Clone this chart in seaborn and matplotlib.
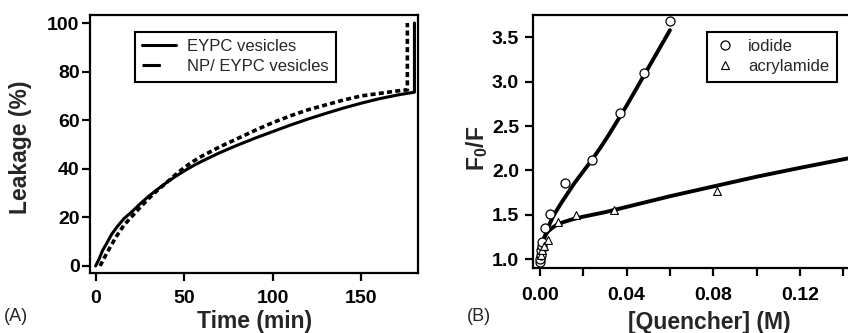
import numpy as np
import pandas as pd
import seaborn as sns
import matplotlib.pyplot as plt
from matplotlib.lines import Line2D
from matplotlib.ticker import MultipleLocator, FormatStrFormatter

# ---- panel A: leakage kinetics ----
time_eypc = [0, 2, 4, 6, 9, 12, 16, 20, 25, 30, 35, 40, 45, 50, 55, 60, 70, 80, 90, 100,
             110, 120, 130, 140, 150, 160, 170, 178, 180, 180]
leak_eypc = [0, 3, 6.5, 9, 13, 16, 19.5, 22, 25.5, 28.7, 31.6, 34.3, 36.8, 39.1, 41.2,
             43.1, 46.6, 49.7, 52.6, 55.3, 58, 60.5, 62.8, 65, 67, 68.8, 70.3, 71.3, 71.5, 100]
time_np = [2.5, 5, 8, 12, 16, 20, 25, 30, 35, 40, 45, 50, 55, 60, 70, 80, 90, 100,
           110, 120, 130, 140, 150, 160, 170, 176, 176]
leak_np = [0, 3.5, 7.5, 12.5, 16.8, 20, 24, 27.8, 31.2, 34.3, 37.5, 40.5, 43, 45.2, 49,
           52.4, 55.8, 59, 61.8, 64.3, 66.3, 68.3, 70, 71, 72, 72.5, 100]

# ---- panel B: Stern-Volmer ----
iod_q = [0.0, 0.0002, 0.0004, 0.0006, 0.0008, 0.001, 0.0023, 0.0046, 0.0115, 0.0241, 0.0369, 0.048, 0.060]
iod_f = [0.97, 1.0, 1.05, 1.1, 1.15, 1.2, 1.35, 1.51, 1.86, 2.12, 2.65, 3.1, 3.68]
acr_q = [0.0005, 0.001, 0.002, 0.0038, 0.0085, 0.0166, 0.0342, 0.0815]
acr_f = [1.05, 1.1, 1.15, 1.22, 1.42, 1.5, 1.55, 1.77]

iod_fit_q = [0, 0.0005, 0.001, 0.002, 0.003, 0.004, 0.006, 0.008, 0.010, 0.013, 0.016,
             0.020, 0.024, 0.028, 0.032, 0.036, 0.040, 0.044, 0.048, 0.052, 0.056, 0.060]
iod_fit_f = [1.0, 1.09, 1.15, 1.24, 1.31, 1.37, 1.48, 1.56, 1.64, 1.75, 1.86, 1.99,
             2.12, 2.26, 2.41, 2.57, 2.73, 2.90, 3.07, 3.24, 3.41, 3.58]
acr_fit_q = [0, 0.0005, 0.001, 0.0015, 0.002, 0.003, 0.004, 0.006, 0.008, 0.011, 0.015,
             0.02, 0.03, 0.04, 0.06, 0.08, 0.10, 0.12, 0.145]
acr_fit_f = [1.0, 1.09, 1.15, 1.2, 1.24, 1.29, 1.32, 1.36, 1.39, 1.42, 1.45, 1.48, 1.53,
             1.59, 1.71, 1.82, 1.93, 2.03, 2.15]

sns.set_style("ticks")
plt.rcParams['font.family'] = ['Liberation Sans', 'DejaVu Sans']
plt.rcParams['mathtext.default'] = 'regular'

fig = plt.figure(figsize=(8.48, 3.33), dpi=100)
ax1 = fig.add_axes([0.1061, 0.1802, 0.3868, 0.7748])
ax2 = fig.add_axes([0.6285, 0.1952, 0.3788, 0.7598])

lw = 2.2
sns.lineplot(x=time_eypc, y=leak_eypc, ax=ax1, color="black", lw=lw,
             sort=False, estimator=None)
sns.lineplot(x=time_np, y=leak_np, ax=ax1, color="black", lw=2.6,
             linestyle=(0, (1.4, 0.9)), sort=False, estimator=None)
ax1.set_xlim(-3.2, 182)
ax1.set_ylim(-2.9, 103.3)
ax1.xaxis.set_major_locator(MultipleLocator(50))
ax1.yaxis.set_major_locator(MultipleLocator(20))
ax1.set_xlabel("Time (min)", fontsize=16.5, fontweight="bold")
ax1.set_ylabel("Leakage (%)", fontsize=16.5, fontweight="bold")
ax1.xaxis.set_label_coords(0.503, -0.145)
ax1.yaxis.set_label_coords(-0.178, 0.488)
handles = [Line2D([], [], color="black", lw=lw),
           Line2D([], [], color="black", lw=lw, linestyle=(0, (6, 10)))]
leg1 = ax1.legend(handles, ["EYPC vesicles", "NP/ EYPC vesicles"],
                  loc="upper left", bbox_to_anchor=(0.137, 0.935),
                  borderaxespad=0, fontsize=12, frameon=True, fancybox=False,
                  handlelength=2.0, borderpad=0.45, labelspacing=0.3,
                  handletextpad=0.65)

sns.lineplot(x=iod_fit_q, y=iod_fit_f, ax=ax2, color="black", lw=lw + 0.6,
             sort=False, estimator=None)
sns.lineplot(x=acr_fit_q, y=acr_fit_f, ax=ax2, color="black", lw=lw + 0.6,
             sort=False, estimator=None)
sns.scatterplot(x=iod_q, y=iod_f, ax=ax2, marker="o", s=42, facecolor="white",
                edgecolor="black", linewidth=0.9, zorder=3)
sns.scatterplot(x=acr_q, y=acr_f, ax=ax2, marker="^", s=32, facecolor="white",
                edgecolor="black", linewidth=0.8, zorder=3)
ax2.set_xlim(-0.0032, 0.145)
ax2.set_ylim(0.902, 3.751)
ax2.xaxis.set_major_locator(MultipleLocator(0.04))
ax2.xaxis.set_minor_locator(MultipleLocator(0.02))
ax2.xaxis.set_major_formatter(FormatStrFormatter("%.2f"))
ax2.yaxis.set_major_locator(MultipleLocator(0.5))
ax2.yaxis.set_major_formatter(FormatStrFormatter("%.1f"))
ax2.set_xlabel("[Quencher] (M)", fontsize=16.5, fontweight="bold")
ax2.set_ylabel("F$_0$/F", fontsize=16.5, fontweight="bold")
ax2.xaxis.set_label_coords(0.548, -0.17)
ax2.yaxis.set_label_coords(-0.134, 0.472)
mh = [Line2D([], [], marker="o", ls="", mfc="white", mec="black", ms=6.5, mew=0.9),
      Line2D([], [], marker="^", ls="", mfc="white", mec="black", ms=6, mew=0.8)]
leg2 = ax2.legend(mh, ["iodide", "acrylamide"], loc="upper left",
                  bbox_to_anchor=(0.542, 0.934), borderaxespad=0, fontsize=12,
                  frameon=True, fancybox=False, handlelength=1.2, borderpad=0.45,
                  labelspacing=0.3, handletextpad=0.8)

for leg in (leg1, leg2):
    fr = leg.get_frame()
    fr.set_edgecolor("black")
    fr.set_linewidth(1.5)
    fr.set_alpha(1)

for ax in (ax1, ax2):
    for sp in ax.spines.values():
        sp.set_linewidth(1.6)
        sp.set_color("black")
    ax.tick_params(which="both", direction="out", length=6, width=1.6,
                   colors="black", labelsize=14)
    for lab in ax.get_xticklabels() + ax.get_yticklabels():
        lab.set_fontweight("bold")
ax1.tick_params(axis="x", pad=6)
ax1.tick_params(axis="y", pad=1.5)
ax2.tick_params(axis="x", pad=8)
ax2.tick_params(axis="y", pad=4)
ax2.spines["right"].set_visible(False)

fig.text(0.004, 0.035, "(A)", fontsize=13)
fig.text(0.551, 0.035, "(B)", fontsize=13)

fig.savefig("out.png", dpi=100)
plt.close(fig)
